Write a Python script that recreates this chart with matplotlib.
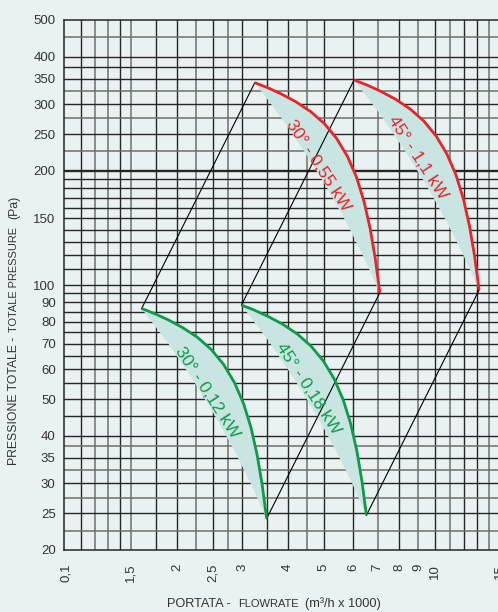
import numpy as np
import matplotlib
matplotlib.use("Agg")
import matplotlib.pyplot as plt
from matplotlib.ticker import NullLocator, NullFormatter

plt.rcParams['font.family'] = ['Liberation Sans', 'DejaVu Sans']

bg = '#eaf2f1'
shade = '#c8e5e2'
red = '#e8232b'
green = '#0e9a4a'
dark = '#262626'
gray = '#6f6f6f'

# fan curves: flow (m3/h x 1000) and total pressure (Pa)
q_30_012 = [1.604, 1.736, 1.885, 2.072, 2.275, 2.476, 2.676, 2.862, 3.029, 3.173, 3.296, 3.402, 3.499]
p_30_012 = [86.7, 84.1, 81.1, 77.2, 72.7, 67.6, 61.7, 55.3, 48.7, 42.1, 35.7, 29.8, 24.2]
q_45_018 = [2.99, 3.237, 3.514, 3.862, 4.241, 4.616, 4.988, 5.335, 5.647, 5.914, 6.144, 6.342, 6.523]
p_45_018 = [88.5, 85.9, 82.8, 78.9, 74.2, 69.0, 63.0, 56.5, 49.7, 43.0, 36.5, 30.4, 24.7]
q_30_055 = [3.25, 3.518, 3.820, 4.197, 4.609, 5.018, 5.421, 5.799, 6.138, 6.428, 6.678, 6.894, 7.090]
p_30_055 = [341.7, 331.5, 319.6, 304.4, 286.5, 266.4, 243.1, 218.0, 191.9, 165.8, 140.7, 117.3, 95.4]
q_45_11 = [6.04, 6.538, 7.099, 7.801, 8.567, 9.325, 10.075, 10.777, 11.407, 11.947, 12.410, 12.811, 13.176]
p_45_11 = [347.4, 337.0, 324.9, 309.5, 291.3, 270.8, 247.2, 221.6, 195.1, 168.6, 143.1, 119.2, 97.0]

# inner edge of the shaded band below each curve
qe_30_012 = [1.604, 1.894, 2.197, 2.515, 2.843, 3.170, 3.499]
pe_30_012 = [86.7, 70.1, 56.7, 45.8, 37.0, 29.9, 24.2]
qe_45_018 = [2.99, 3.530, 4.095, 4.689, 5.299, 5.910, 6.523]
pe_45_018 = [88.5, 71.5, 57.8, 46.8, 37.8, 30.6, 24.7]
qe_30_055 = [3.25, 3.837, 4.451, 5.097, 5.760, 6.424, 7.090]
pe_30_055 = [341.7, 276.2, 223.3, 180.6, 146.0, 118.0, 95.4]
qe_45_11 = [6.04, 7.131, 8.272, 9.472, 10.705, 11.939, 13.176]
pe_45_11 = [347.4, 280.9, 227.1, 183.6, 148.4, 120.0, 97.0]

curve_labels = ['30° - 0,12 kW', '45° - 0,18 kW', '30° - 0,55 kW', '45° - 1,1 kW']

# axis ticks and grid
x_ticks = [1, 1.5, 2, 2.5, 3, 4, 5, 6, 7, 8, 9, 10, 15]
x_ticklabels = ['0,1', '1,5', '2', '2,5', '3', '4', '5', '6', '7', '8', '9', '10', '15']
y_ticks = [20, 25, 30, 35, 40, 50, 60, 70, 80, 90, 100, 150, 200, 250, 300, 350, 400, 500]
grid_x_dark = [1.1, 1.4, 1.75, 2, 2.5, 3, 3.5, 4, 5, 6, 8, 10, 12, 13]
grid_x_gray = [1.2, 1.3, 1.5, 2.25, 2.75, 4.5, 7, 9, 11, 14]
grid_y_dark = [25, 30, 35, 40, 45, 50, 55, 60, 65, 70, 75, 80, 85, 90, 95, 100,
               110, 120, 130, 140, 150, 160, 170, 180, 190, 250, 300, 350, 375, 400]
grid_y_gray = [22.5, 27.5, 32.5, 37.5, 225, 275, 325, 450]

fig = plt.figure(figsize=(4.98, 6.12), dpi=100)
fig.patch.set_facecolor(bg)
ax = fig.add_axes([64 / 498, 1 - 550 / 612, 438 / 498, 530 / 612])
ax.set_facecolor(bg)
ax.set_xscale('log')
ax.set_yscale('log')
ax.set_xlim(0.988, 15.2)
ax.set_ylim(20, 500)

for v in grid_x_dark:
    ax.axvline(v, color=dark, lw=1.0, zorder=1)
for v in grid_x_gray:
    ax.axvline(v, color=gray, lw=1.1, zorder=1)
for v in grid_y_dark:
    ax.axhline(v, color=dark, lw=1.0, zorder=1)
for v in grid_y_gray:
    ax.axhline(v, color=gray, lw=1.1, zorder=1)
ax.axhline(200, color=dark, lw=1.7, zorder=1)

for s in ['left', 'bottom', 'top']:
    ax.spines[s].set_color(dark)
    ax.spines[s].set_linewidth(1.1)
ax.spines['right'].set_visible(False)

ax.xaxis.set_minor_locator(NullLocator())
ax.yaxis.set_minor_locator(NullLocator())
ax.xaxis.set_minor_formatter(NullFormatter())
ax.yaxis.set_minor_formatter(NullFormatter())
ax.set_xticks(x_ticks)
ax.set_xticklabels(x_ticklabels, rotation=90, fontsize=9.5, color='#333333')
ax.set_yticks(y_ticks)
ax.set_yticklabels([str(v) for v in y_ticks], fontsize=9.5, color='#333333')
ax.tick_params(axis='x', length=0, pad=10)
ax.tick_params(axis='y', length=0, pad=6)

curves = [(q_30_012, p_30_012, qe_30_012, pe_30_012, green),
          (q_45_018, p_45_018, qe_45_018, pe_45_018, green),
          (q_30_055, p_30_055, qe_30_055, pe_30_055, red),
          (q_45_11, p_45_11, qe_45_11, pe_45_11, red)]

for q, p, qe, pe, c in curves:
    ax.fill(np.r_[q, qe[::-1]], np.r_[p, pe[::-1]], color=shade, lw=0, zorder=2)
    ax.plot(q, p, color=c, lw=2.0, zorder=4, solid_capstyle='butt',
            solid_joinstyle='round')

# thin lines joining the small motor curves to the large ones
for a, b in [(curves[0], curves[2]), (curves[1], curves[3])]:
    ax.plot([a[0][0], b[0][0]], [a[1][0], b[1][0]], color='black', lw=0.8, zorder=3)
    ax.plot([a[0][-1], b[0][-1]], [a[1][-1], b[1][-1]], color='black', lw=0.8, zorder=3)

label_pos = [(2.41, 52), (4.54, 53.3), (4.83, 207), (8.95, 217)]
for (x, y), txt, cv in zip(label_pos, curve_labels, curves):
    ax.text(x, y, txt, color=cv[4], fontsize=12.5, rotation=-57,
            rotation_mode='anchor', ha='center', va='center', zorder=5)

# axis titles, mixed sizes
yl = 1 - 604 / 612
fig.text(167 / 498, yl, 'PORTATA - ', fontsize=9.2, color='#333333', ha='left', va='center')
fig.text(238 / 498, yl, 'FLOWRATE', fontsize=8.0, color='#333333', ha='left', va='center')
fig.text(305 / 498, yl, '(m³/h x 1000)', fontsize=9.2, color='#333333', ha='left', va='center')

xl = 14 / 498
fig.text(xl, 1 - 465 / 612, 'PRESSIONE TOTALE - ', fontsize=8.8, color='#333333',
         rotation=90, ha='center', va='bottom')
fig.text(xl, 1 - 332 / 612, 'TOTALE PRESSURE', fontsize=7.9, color='#333333',
         rotation=90, ha='center', va='bottom')
fig.text(xl, 1 - 219 / 612, '(Pa)', fontsize=8.8, color='#333333',
         rotation=90, ha='center', va='bottom')

fig.savefig('out.png', dpi=100, facecolor=bg)
